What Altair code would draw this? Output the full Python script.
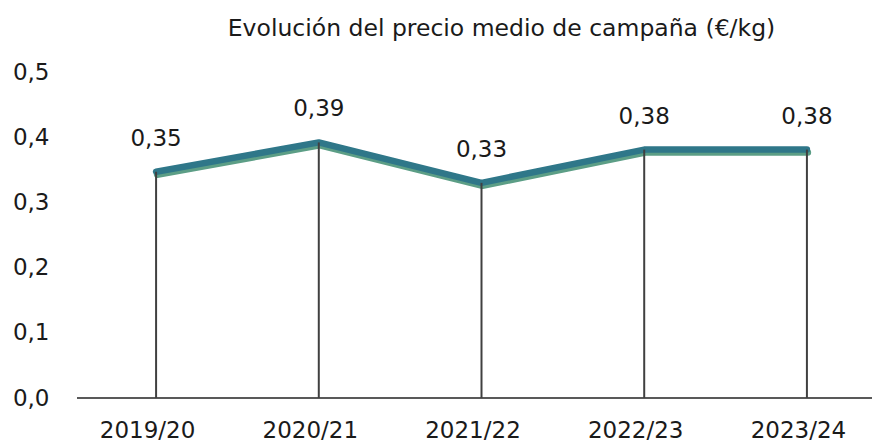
import altair as alt
import pandas as pd

campaigns = ["2019/20", "2020/21", "2021/22", "2022/23", "2023/24"]
prices = [0.347, 0.392, 0.330, 0.381, 0.381]
labels = ["0,35", "0,39", "0,33", "0,38", "0,38"]

df = pd.DataFrame({"campaign": campaigns, "price": prices, "label": labels})

FONT = "DejaVu Sans"
W, H = 781, 326

x = alt.X("campaign:N", sort=campaigns,
          scale=alt.Scale(type="point", padding=0.4),
          axis=alt.Axis(title=None, domain=False, ticks=False, labelAngle=0,
                        labelFont=FONT, labelFontSize=23, labelColor="#1a1a1a",
                        labelPadding=21, labelOffset=-9, grid=False))
y = alt.Y("price:Q", scale=alt.Scale(domain=[0, 0.5], nice=False),
          axis=alt.Axis(title=None, domain=False, ticks=False, grid=False,
                        values=[0, 0.1, 0.2, 0.3, 0.4, 0.5],
                        labelExpr="replace(format(datum.value, '.1f'), '.', ',')",
                        labelFont=FONT, labelFontSize=23, labelColor="#1a1a1a",
                        labelPadding=42, labelAlign="right"))

base = alt.Chart(df)

axis_line = base.mark_rule(color="#595959", strokeWidth=2).encode(
    x=alt.value(-14), x2=alt.value(W), y=alt.datum(0)
).transform_filter("datum.campaign == '2019/20'")

shadow = base.mark_line(color="#5C9E86", strokeWidth=6.5, strokeCap="round",
                        strokeJoin="round", yOffset=3, xOffset=1).encode(x=x, y=y)
line = base.mark_line(color="#2F7789", strokeWidth=6.5, strokeCap="round",
                      strokeJoin="round").encode(x=x, y=y)

drops = base.mark_rule(color="#404040", strokeWidth=2).encode(
    x=x, y=alt.Y("price:Q"), y2=alt.datum(0))

text = base.mark_text(font=FONT, fontSize=23, color="#1a1a1a", dy=-33,
                      baseline="middle").encode(x=x, y=y, text="label:N")

chart = alt.layer(axis_line, shadow, line, drops, text).properties(
    width=W, height=H,
    title=alt.TitleParams("Evolución del precio medio de campaña (€/kg)",
                          font=FONT, fontSize=23.5, fontWeight="normal",
                          color="#1a1a1a", offset=21, anchor="middle",
                          dx=20),
    padding={"left": 83, "top": 64, "right": 0, "bottom": 50},
    autosize=alt.AutoSizeParams(type="none"),
).configure_view(stroke=None)

chart.save("out.html", embed_options={"renderer": "svg", "actions": False})
